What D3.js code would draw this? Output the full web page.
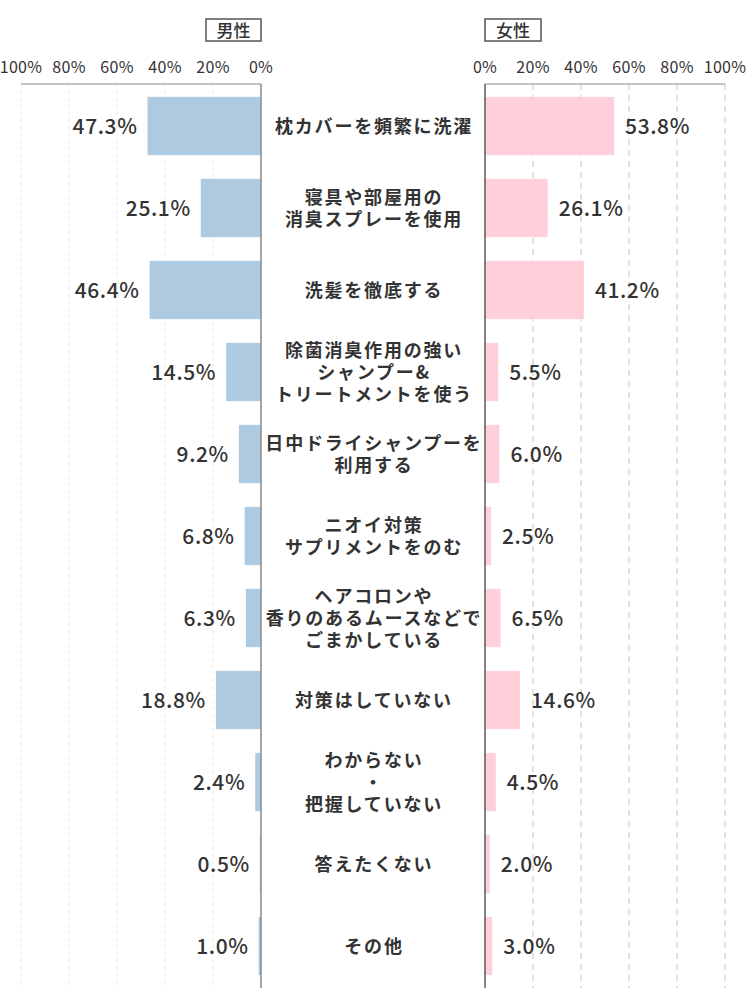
<!DOCTYPE html>
<html>
<head>
<meta charset="utf-8">
<script src="https://cdn.jsdelivr.net/npm/d3@7"></script>
<style>
  body { margin: 0; background: #fff; }
  svg { display: block; font-family: "Noto Sans CJK JP", "Noto Sans", sans-serif; }
</style>
</head>
<body>
<svg id="chart" width="750" height="1000"></svg>
<script>
  // ---DATA
  var categories = [
    ['枕カバーを頻繁に洗濯'],
    ['寝具や部屋用の', '消臭スプレーを使用'],
    ['洗髪を徹底する'],
    ['除菌消臭作用の強い', 'シャンプー&', 'トリートメントを使う'],
    ['日中ドライシャンプーを', '利用する'],
    ['ニオイ対策', 'サプリメントをのむ'],
    ['ヘアコロンや', '香りのあるムースなどで', 'ごまかしている'],
    ['対策はしていない'],
    ['わからない', '・', '把握していない'],
    ['答えたくない'],
    ['その他']
  ];
  var male = [47.3, 25.1, 46.4, 14.5, 9.2, 6.8, 6.3, 18.8, 2.4, 0.5, 1.0];
  var female = [53.8, 26.1, 41.2, 5.5, 6.0, 2.5, 6.5, 14.6, 4.5, 2.0, 3.0];
  var ticks = [0, 20, 40, 60, 80, 100];
  var headers = ['男性', '女性'];

  // ---SIZES
  var top_y = 84,
    bottom_y = 988,
    center_x = 373;

  var svg = d3.select('#chart');

  // ---SCALES
  var y = d3.scaleBand()
    .domain(d3.range(categories.length))
    .range([top_y + 1, bottom_y - 1])
    .paddingInner(0.29)
    .paddingOuter(0.145);

  var x_left = d3.scaleLinear().domain([0, 100]).range([261, 21]);
  var x_right = d3.scaleLinear().domain([0, 100]).range([485, 725]);

  // ---GRID LINES
  svg.append('g').selectAll('line')
    .data(ticks.slice(1))
    .enter().append('line')
    .attr('x1', function(d) { return x_left(d); })
    .attr('x2', function(d) { return x_left(d); })
    .attr('y1', top_y)
    .attr('y2', bottom_y)
    .style('stroke', '#e6e6e6')
    .style('stroke-width', 1)
    .style('stroke-dasharray', '3,4');

  svg.append('g').selectAll('line')
    .data(ticks.slice(1))
    .enter().append('line')
    .attr('x1', function(d) { return x_right(d); })
    .attr('x2', function(d) { return x_right(d); })
    .attr('y1', top_y)
    .attr('y2', bottom_y)
    .style('stroke', '#c4c4c4')
    .style('stroke-width', 1)
    .style('stroke-dasharray', '6,5');

  // ---BARS
  svg.append('g').selectAll('rect')
    .data(male)
    .enter().append('rect')
    .attr('x', function(d) { return x_left(d); })
    .attr('y', function(d, i) { return y(i); })
    .attr('width', function(d) { return x_left(0) - x_left(d); })
    .attr('height', y.bandwidth())
    .style('fill', '#aecae1');

  svg.append('g').selectAll('rect')
    .data(female)
    .enter().append('rect')
    .attr('x', x_right(0))
    .attr('y', function(d, i) { return y(i); })
    .attr('width', function(d) { return x_right(d) - x_right(0); })
    .attr('height', y.bandwidth())
    .style('fill', '#ffd0d9');

  // ---AXES LINES
  svg.append('line')
    .attr('x1', x_left(100)).attr('x2', x_left(0))
    .attr('y1', top_y).attr('y2', top_y)
    .style('stroke', '#8a8a8a').style('stroke-width', 1);
  svg.append('line')
    .attr('x1', x_left(0)).attr('x2', x_left(0))
    .attr('y1', top_y).attr('y2', bottom_y)
    .style('stroke', '#8a8a8a').style('stroke-width', 1.5);
  svg.append('line')
    .attr('x1', x_right(0)).attr('x2', x_right(100))
    .attr('y1', top_y).attr('y2', top_y)
    .style('stroke', '#8a8a8a').style('stroke-width', 1);
  svg.append('line')
    .attr('x1', x_right(0)).attr('x2', x_right(0))
    .attr('y1', top_y).attr('y2', bottom_y)
    .style('stroke', '#333').style('stroke-width', 1.2);

  // ---TICK LABELS
  function draw_ticks(scale) {
    svg.append('g').selectAll('text')
      .data(ticks)
      .enter().append('text')
      .attr('x', function(d) { return scale(d); })
      .attr('y', 73)
      .attr('text-anchor', 'middle')
      .style('font-size', '16px')
      .style('letter-spacing', '0.3px')
      .style('fill', '#333')
      .text(function(d) { return d + '%'; });
  }
  draw_ticks(x_left);
  draw_ticks(x_right);

  // ---HEADERS
  var header_x = [[206, 261], [485, 541]];
  headers.forEach(function(h, i) {
    svg.append('rect')
      .attr('x', header_x[i][0])
      .attr('y', 19)
      .attr('width', header_x[i][1] - header_x[i][0])
      .attr('height', 22)
      .style('fill', '#fff')
      .style('stroke', '#555')
      .style('stroke-width', 1.5);
    svg.append('text')
      .attr('x', (header_x[i][0] + header_x[i][1]) / 2)
      .attr('y', 36.5)
      .attr('text-anchor', 'middle')
      .style('font-size', '17px')
      .style('font-weight', 500)
      .style('fill', '#333')
      .text(h);
  });

  // ---VALUE LABELS
  function draw_values(data, scale, side) {
    svg.append('g').selectAll('text')
      .data(data)
      .enter().append('text')
      .attr('x', function(d) { return scale(d) + (side < 0 ? -10 : 11); })
      .attr('y', function(d, i) { return y(i) + y.bandwidth() / 2 + 7.5; })
      .attr('text-anchor', side < 0 ? 'end' : 'start')
      .style('font-size', '21px')
      .style('font-weight', 500)
      .style('letter-spacing', '0.6px')
      .style('fill', '#333')
      .text(function(d) { return d.toFixed(1) + '%'; });
  }
  draw_values(male, x_left, -1);
  draw_values(female, x_right, 1);

  // ---CATEGORY LABELS
  var line_h = 22;
  var cat_g = svg.append('g').selectAll('text')
    .data(categories)
    .enter().append('text')
    .attr('text-anchor', 'middle')
    .style('font-size', '18px')
    .style('font-weight', 700)
    .style('letter-spacing', '1.8px')
    .style('fill', '#333');

  cat_g.each(function(lines, i) {
    var cy = y(i) + y.bandwidth() / 2;
    var start = cy - (lines.length - 1) * line_h / 2 + 6.5;
    d3.select(this).selectAll('tspan')
      .data(lines)
      .enter().append('tspan')
      .attr('x', center_x + 1)
      .attr('y', function(d, j) { return start + j * line_h; })
      .text(function(d) { return d; });
  });
</script>
</body>
</html>
